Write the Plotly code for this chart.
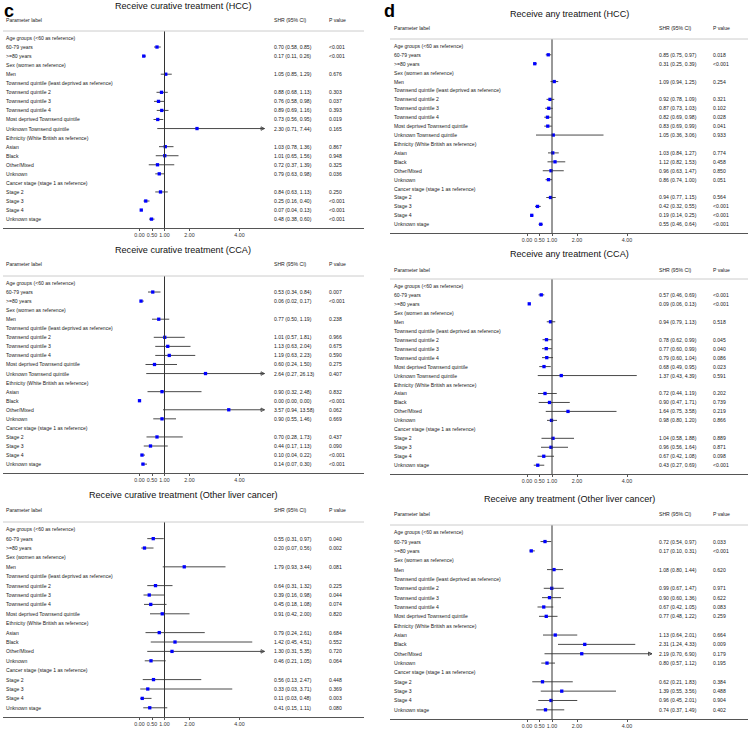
import plotly.graph_objects as go

W, H = 750, 730

# ---------------- data ----------------
rows_full = [
    "Age groups (<60 as reference)", "60-79 years", ">=80 years",
    "Sex (women as reference)", "Men",
    "Townsend quintile (least deprived as reference)", "Townsend quintile 2",
    "Townsend quintile 3", "Townsend quintile 4", "Most deprived Townsend quintile",
    "Unknown Townsend quintile",
    "Ethnicity (White British as reference)", "Asian", "Black", "Other/Mixed", "Unknown",
    "Cancer stage (stage 1 as reference)", "Stage 2", "Stage 3", "Stage 4", "Unknown stage",
]
group_headers = [
    "Age groups (<60 as reference)", "Sex (women as reference)",
    "Townsend quintile (least deprived as reference)",
    "Ethnicity (White British as reference)", "Cancer stage (stage 1 as reference)",
]
rows_other = [r for r in rows_full if r != "Unknown Townsend quintile"]

tick_vals = [0, 0.5, 1, 2, 4]
tick_text = ["0.00", "0.50", "1.00", "2.00", "4.00"]

# c: Receive curative treatment (HCC)
est_c_hcc = [0.70, 0.17, 1.05, 0.88, 0.76, 0.89, 0.73, 2.30, 1.03, 1.01, 0.72, 0.79, 0.84, 0.25, 0.07, 0.48]
lo_c_hcc = [0.58, 0.11, 0.85, 0.68, 0.58, 0.69, 0.56, 0.71, 0.78, 0.65, 0.37, 0.63, 0.63, 0.16, 0.04, 0.38]
hi_c_hcc = [0.85, 0.26, 1.29, 1.13, 0.98, 1.16, 0.95, 7.44, 1.36, 1.56, 1.39, 0.98, 1.13, 0.40, 0.13, 0.60]
p_c_hcc = ["<0.001", "<0.001", "0.676", "0.303", "0.037", "0.393", "0.019", "0.165", "0.867", "0.948", "0.325", "0.036", "0.250", "<0.001", "<0.001", "<0.001"]

# c: Receive curative treatment (CCA)
est_c_cca = [0.53, 0.06, 0.77, 1.01, 1.13, 1.19, 0.60, 2.64, 0.90, 0.00, 3.57, 0.90, 0.70, 0.44, 0.10, 0.14]
lo_c_cca = [0.34, 0.02, 0.50, 0.57, 0.63, 0.63, 0.24, 0.27, 0.32, 0.00, 0.94, 0.55, 0.28, 0.17, 0.04, 0.07]
hi_c_cca = [0.84, 0.17, 1.19, 1.81, 2.04, 2.23, 1.50, 26.13, 2.48, 0.00, 13.58, 1.46, 1.73, 1.13, 0.22, 0.30]
p_c_cca = ["0.007", "<0.001", "0.238", "0.966", "0.675", "0.590", "0.275", "0.407", "0.832", "<0.001", "0.062", "0.669", "0.437", "0.090", "<0.001", "<0.001"]

# c: Receive curative treatment (Other liver cancer)
est_c_oth = [0.55, 0.20, 1.79, 0.64, 0.39, 0.45, 0.91, 0.79, 1.42, 1.30, 0.46, 0.56, 0.33, 0.11, 0.41]
lo_c_oth = [0.31, 0.07, 0.93, 0.31, 0.16, 0.18, 0.42, 0.24, 0.45, 0.31, 0.21, 0.13, 0.03, 0.03, 0.15]
hi_c_oth = [0.97, 0.56, 3.44, 1.32, 0.98, 1.08, 2.00, 2.61, 4.51, 5.35, 1.05, 2.47, 3.71, 0.48, 1.11]
p_c_oth = ["0.040", "0.002", "0.081", "0.225", "0.044", "0.074", "0.820", "0.684", "0.552", "0.720", "0.064", "0.448", "0.369", "0.003", "0.080"]

# d: Receive any treatment (HCC)
est_d_hcc = [0.85, 0.31, 1.09, 0.92, 0.87, 0.82, 0.83, 1.05, 1.03, 1.12, 0.96, 0.86, 0.94, 0.42, 0.19, 0.55]
lo_d_hcc = [0.75, 0.25, 0.94, 0.78, 0.73, 0.69, 0.69, 0.36, 0.84, 0.82, 0.63, 0.74, 0.77, 0.32, 0.14, 0.46]
hi_d_hcc = [0.97, 0.39, 1.25, 1.09, 1.03, 0.98, 0.99, 3.06, 1.27, 1.53, 1.47, 1.00, 1.15, 0.55, 0.25, 0.64]
p_d_hcc = ["0.018", "<0.001", "0.254", "0.321", "0.102", "0.028", "0.041", "0.933", "0.774", "0.458", "0.850", "0.051", "0.564", "<0.001", "<0.001", "<0.001"]

# d: Receive any treatment (CCA)
est_d_cca = [0.57, 0.09, 0.94, 0.78, 0.77, 0.79, 0.68, 1.37, 0.72, 0.90, 1.64, 0.98, 1.04, 0.96, 0.67, 0.43]
lo_d_cca = [0.46, 0.06, 0.79, 0.62, 0.60, 0.60, 0.49, 0.43, 0.44, 0.47, 0.75, 0.80, 0.58, 0.56, 0.42, 0.27]
hi_d_cca = [0.69, 0.13, 1.13, 0.99, 0.99, 1.04, 0.95, 4.39, 1.19, 1.71, 3.58, 1.20, 1.88, 1.64, 1.08, 0.69]
p_d_cca = ["<0.001", "<0.001", "0.518", "0.045", "0.040", "0.086", "0.023", "0.591", "0.202", "0.739", "0.219", "0.866", "0.889", "0.871", "0.098", "<0.001"]

# d: Receive any treatment (Other liver cancer)
est_d_oth = [0.72, 0.17, 1.08, 0.99, 0.90, 0.67, 0.77, 1.13, 2.31, 2.19, 0.80, 0.62, 1.39, 0.96, 0.74]
lo_d_oth = [0.54, 0.10, 0.80, 0.67, 0.60, 0.42, 0.48, 0.64, 1.24, 0.70, 0.57, 0.21, 0.55, 0.45, 0.37]
hi_d_oth = [0.97, 0.31, 1.44, 1.47, 1.36, 1.05, 1.22, 2.01, 4.33, 6.90, 1.12, 1.83, 3.56, 2.01, 1.49]
p_d_oth = ["0.033", "<0.001", "0.620", "0.971", "0.622", "0.083", "0.259", "0.664", "0.009", "0.179", "0.195", "0.384", "0.488", "0.904", "0.402"]

X_CLIP = 5.0  # CI upper limits beyond this are drawn as arrows

# ---------------- layout geometry (pixels) ----------------
FONT = "Liberation Sans, Arial, sans-serif"
PX_PER_UNIT = 25.0
LEFT = dict(x0=3, x1=364, zero=139.5, lab=4, shr=272, p=327, title_x=183, letter="c", letter_x=3)
RIGHT = dict(x0=390, x1=748, zero=527, lab=392, shr=657, p=711, title_x=569, letter="d", letter_x=383)

panels = [
    dict(col=LEFT, title="Receive curative treatment (HCC)", title_y=6, head_y=20, y0=31, y1=228,
         rows=rows_full, est=est_c_hcc, lo=lo_c_hcc, hi=hi_c_hcc, p=p_c_hcc),
    dict(col=LEFT, title="Receive curative treatment (CCA)", title_y=250, head_y=264, y0=276, y1=473,
         rows=rows_full, est=est_c_cca, lo=lo_c_cca, hi=hi_c_cca, p=p_c_cca),
    dict(col=LEFT, title="Receive curative treatment (Other liver cancer)", title_y=495, head_y=510, y0=522, y1=717,
         rows=rows_other, est=est_c_oth, lo=lo_c_oth, hi=hi_c_oth, p=p_c_oth),
    dict(col=RIGHT, title="Receive any treatment (HCC)", title_y=13.5, head_y=28, y0=39, y1=233,
         rows=rows_full, est=est_d_hcc, lo=lo_d_hcc, hi=hi_d_hcc, p=p_d_hcc),
    dict(col=RIGHT, title="Receive any treatment (CCA)", title_y=254, head_y=270, y0=279, y1=474,
         rows=rows_full, est=est_d_cca, lo=lo_d_cca, hi=hi_d_cca, p=p_d_cca),
    dict(col=RIGHT, title="Receive any treatment (Other liver cancer)", title_y=499, head_y=514, y0=525, y1=719,
         rows=rows_other, est=est_d_oth, lo=lo_d_oth, hi=hi_d_oth, p=p_d_oth),
]

def px(x):
    return x / W

def py(y):
    return 1 - y / H

fig = go.Figure()
annotations = []
shapes = []
layout_axes = {}

TXT = dict(family=FONT, size=5.1, color="#222222")

for i, pan in enumerate(panels):
    n = i + 1
    xa = "x" if n == 1 else f"x{n}"
    ya = "y" if n == 1 else f"y{n}"
    col = pan["col"]
    rows = pan["rows"]
    value_rows = [k for k, r in enumerate(rows) if r not in group_headers]

    # x axis: linear, fixed pixels per unit
    xr = [(col["x0"] - col["zero"]) / PX_PER_UNIT, (col["x1"] - col["zero"]) / PX_PER_UNIT]
    layout_axes["xaxis" if n == 1 else f"xaxis{n}"] = dict(
        domain=[px(col["x0"]), px(col["x1"])], anchor=ya, range=xr,
        tickvals=tick_vals, ticktext=tick_text, showline=True, linecolor="#555555", linewidth=1,
        ticks="outside", ticklen=2, tickwidth=1, tickcolor="#555555",
        tickfont=dict(family=FONT, size=5.3, color="#333333"),
        showgrid=False, zeroline=False, fixedrange=True,
    )
    layout_axes["yaxis" if n == 1 else f"yaxis{n}"] = dict(
        domain=[py(pan["y1"]), py(pan["y0"])], anchor=xa,
        range=[len(rows) - 1 + 0.98, -0.77], visible=False, fixedrange=True,
    )

    # CI lines
    xs, ys, ax_, ay_ = [], [], [], []
    for k, l, h in zip(value_rows, pan["lo"], pan["hi"]):
        xs += [l, min(h, X_CLIP), None]
        ys += [k, k, None]
        if h > X_CLIP:
            ax_.append(X_CLIP)
            ay_.append(k)
    fig.add_trace(go.Scatter(x=xs, y=ys, mode="lines", line=dict(color="#4a4a4a", width=1),
                             xaxis=xa, yaxis=ya, hoverinfo="skip", showlegend=False))
    if ax_:
        fig.add_trace(go.Scatter(x=ax_, y=ay_, mode="markers",
                                 marker=dict(symbol="arrow-right-open", size=3.5, color="#333333",
                                             line=dict(width=0.8, color="#333333")),
                                 xaxis=xa, yaxis=ya, hoverinfo="skip", showlegend=False))
    # point estimates
    fig.add_trace(go.Scatter(x=pan["est"], y=value_rows, mode="markers",
                             marker=dict(symbol="square", size=3.3, color="#0000ff", line=dict(width=0)),
                             xaxis=xa, yaxis=ya, hoverinfo="skip", showlegend=False))

    # reference line at 1 and header rule
    shapes.append(dict(type="line", xref=xa, yref=f"{ya} domain", x0=1, x1=1, y0=0, y1=1,
                       line=dict(color="#333333", width=1)))
    shapes.append(dict(type="line", xref=f"{xa} domain", yref=f"{ya} domain", x0=0, x1=1, y0=1, y1=1,
                       line=dict(color="#cccccc", width=1)))

    # title and column headers
    annotations.append(dict(text=pan["title"], x=px(col["title_x"]), y=py(pan["title_y"]),
                            xref="paper", yref="paper", xanchor="center", yanchor="middle",
                            showarrow=False, font=dict(family=FONT, size=9.1, color="#111111")))
    for label, key in (("Parameter label", "lab"), ("SHR (95% CI)", "shr"), ("P value", "p")):
        annotations.append(dict(text=label, x=px(col[key]), y=py(pan["head_y"]), xref="paper", yref="paper",
                                xanchor="left", yanchor="middle", showarrow=False, font=TXT))

    # row labels
    for k, r in enumerate(rows):
        annotations.append(dict(text=r.replace("<", "&lt;"), x=px(col["lab"]), y=k, xref="paper", yref=ya,
                                xanchor="left", yanchor="middle", showarrow=False, font=TXT))
    # estimate text and p values
    for k, e, l, h, pv in zip(value_rows, pan["est"], pan["lo"], pan["hi"], pan["p"]):
        annotations.append(dict(text=f"{e:.2f} ({l:.2f}, {h:.2f})", x=px(col["shr"]), y=k, xref="paper",
                                yref=ya, xanchor="left", yanchor="middle", showarrow=False, font=TXT))
        annotations.append(dict(text=pv.replace("<", "&lt;"), x=px(col["p"]), y=k, xref="paper", yref=ya,
                                xanchor="left", yanchor="middle", showarrow=False, font=TXT))

# panel letters
for col in (LEFT, RIGHT):
    annotations.append(dict(text=f"<b>{col['letter']}</b>", x=px(col["letter_x"]), y=1.0,
                            xref="paper", yref="paper", xanchor="left", yanchor="top", borderpad=0,
                            showarrow=False, font=dict(family=FONT, size=18, color="#000000")))

fig.update_layout(
    width=W, height=H, margin=dict(l=0, r=0, t=0, b=0),
    paper_bgcolor="white", plot_bgcolor="white",
    annotations=annotations, shapes=shapes, showlegend=False, hovermode=False,
    **layout_axes,
)

fig.write_html(
    "out.html",
    config={"displayModeBar": False},
    post_script="document.body.style.margin='0';document.body.style.padding='0';document.body.style.overflow='hidden';",
)
